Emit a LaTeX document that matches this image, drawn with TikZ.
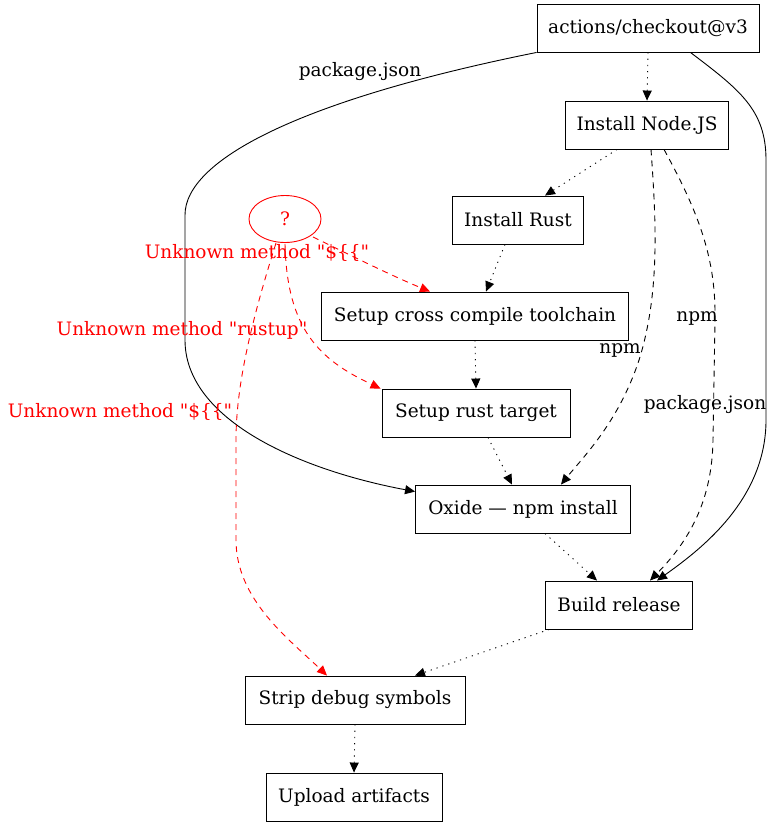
\documentclass[tikz,border=0pt]{standalone}
\usepackage{fontspec}
\setmainfont{DejaVu Serif}[Ligatures=TeXOff]
\usetikzlibrary{shapes.geometric,arrows.meta,calc}
\begin{document}
\begin{tikzpicture}[x=1pt,y=-1pt,
  every node/.style={font=\fontsize{18.5}{22}\selectfont},
  box/.style={draw,rectangle,minimum height=48pt,inner sep=2pt,line width=0.9pt},
  tip/.style={-{Triangle[length=10pt,width=9pt]}},
  dotl/.style={tip,dash pattern=on 1.2pt off 5pt,line width=0.9pt},
  dashl/.style={tip,dash pattern=on 6pt off 5pt,line width=0.9pt},
  soll/.style={tip,line width=0.9pt},
  redl/.style={tip,red,dash pattern=on 6pt off 5pt,line width=0.9pt},
  lbl/.style={inner sep=0pt},
  rlbl/.style={inner sep=0pt,text=red}]
\useasboundingbox (0,0) rectangle (774,827);
\node[box,minimum width=222pt] (co) at (648,28) {actions/checkout@v3};
\node[box,minimum width=163pt] (nd) at (647,125) {Install Node.JS};
\node[box,minimum width=131pt] (ru) at (518,220) {Install Rust};
\node[draw=red,ellipse,minimum width=72pt,minimum height=47pt,inner sep=0pt,text=red,line width=0.9pt] (q) at (285,219) {?};
\node[box,minimum width=307pt] (sc) at (475,316) {Setup cross compile toolchain};
\node[box,minimum width=188pt] (st) at (476,413) {Setup rust target};
\node[box,minimum width=215pt] (ox) at (523,509) {Oxide — npm install};
\node[box,minimum width=147pt] (br) at (619,605) {Build release};
\node[box,minimum width=220pt] (sd) at (355,700) {Strip debug symbols};
\node[box,minimum width=176pt] (ua) at (354,797) {Upload artifacts};
% dotted chain
\draw[dotl] (co.south) -- (nd.north);
\draw[dotl] ($(nd.south)+(-30,0)$) -- ($(ru.north)+(27,0)$);
\draw[dotl] ($(ru.south)+(-13,0)$) -- ($(sc.north)+(11,0)$);
\draw[dotl] (sc.south) -- (st.north);
\draw[dotl] ($(st.south)+(12,0)$) -- ($(ox.north)+(-11,0)$);
\draw[dotl] ($(ox.south)+(22,0)$) -- ($(br.north)+(-22,0)$);
\draw[dotl] ($(br.south west)+(4,0)$) -- ($(sd.north)+(60,0)$);
\draw[dotl] (sd.south) -- (ua.north);
% solid package.json edges
\draw[soll] (co.south west) .. controls (300,100) and (185,160) .. (185,215) -- (185,340)
  .. controls (185,420) and (300,470) .. ($(ox.north west)+(0,7)$);
\node[lbl] (l1) at (360,72) {package.json};
\draw[soll] ($(co.south east)+(-69,0)$) .. controls (740,90) and (766,110) .. (766,160) -- (766,420)
  .. controls (766,500) and (700,550) .. ($(br.north)+(38,0)$);
\node[lbl] (l2) at (705,405) {package.json};
% npm dashed edges
\draw[dashl] ($(nd.south)+(4,0)$) .. controls (656,220) and (660,290) .. (640,357)
  .. controls (620,420) and (585,455) .. ($(ox.north)+(38,0)$);
\node[lbl] (l3) at (620,350) {npm};
\draw[dashl] ($(nd.south)+(17,0)$) .. controls (700,215) and (716,260) .. (715,320) -- (713,440)
  .. controls (712,500) and (690,540) .. ($(br.north)+(31,0)$);
\node[lbl] (l4) at (697,318) {npm};
% red edges
\draw[redl] ($(q.center)+(28,18)$) .. controls (350,255) and (390,275) .. ($(sc.north)+(-45,0)$);
\node[rlbl] (l5) at (257,253) {Unknown method "\$\{\{"};
\draw[redl] ($(q.south)+(0,1)$) .. controls (287,330) and (320,360) .. ($(st.north west)+(-1,0)$);
\node[rlbl] (l6) at (182,330) {Unknown method "rustup"};
\draw[redl] ($(q.south)+(-9,0)$) .. controls (255,310) and (236,380) .. (236,440) -- (236,540)
  .. controls (236,600) and (290,640) .. ($(sd.north)+(-28,0)$);
\node[rlbl] (l7) at (120,412) {Unknown method "\$\{\{"};
\end{tikzpicture}
\end{document}
